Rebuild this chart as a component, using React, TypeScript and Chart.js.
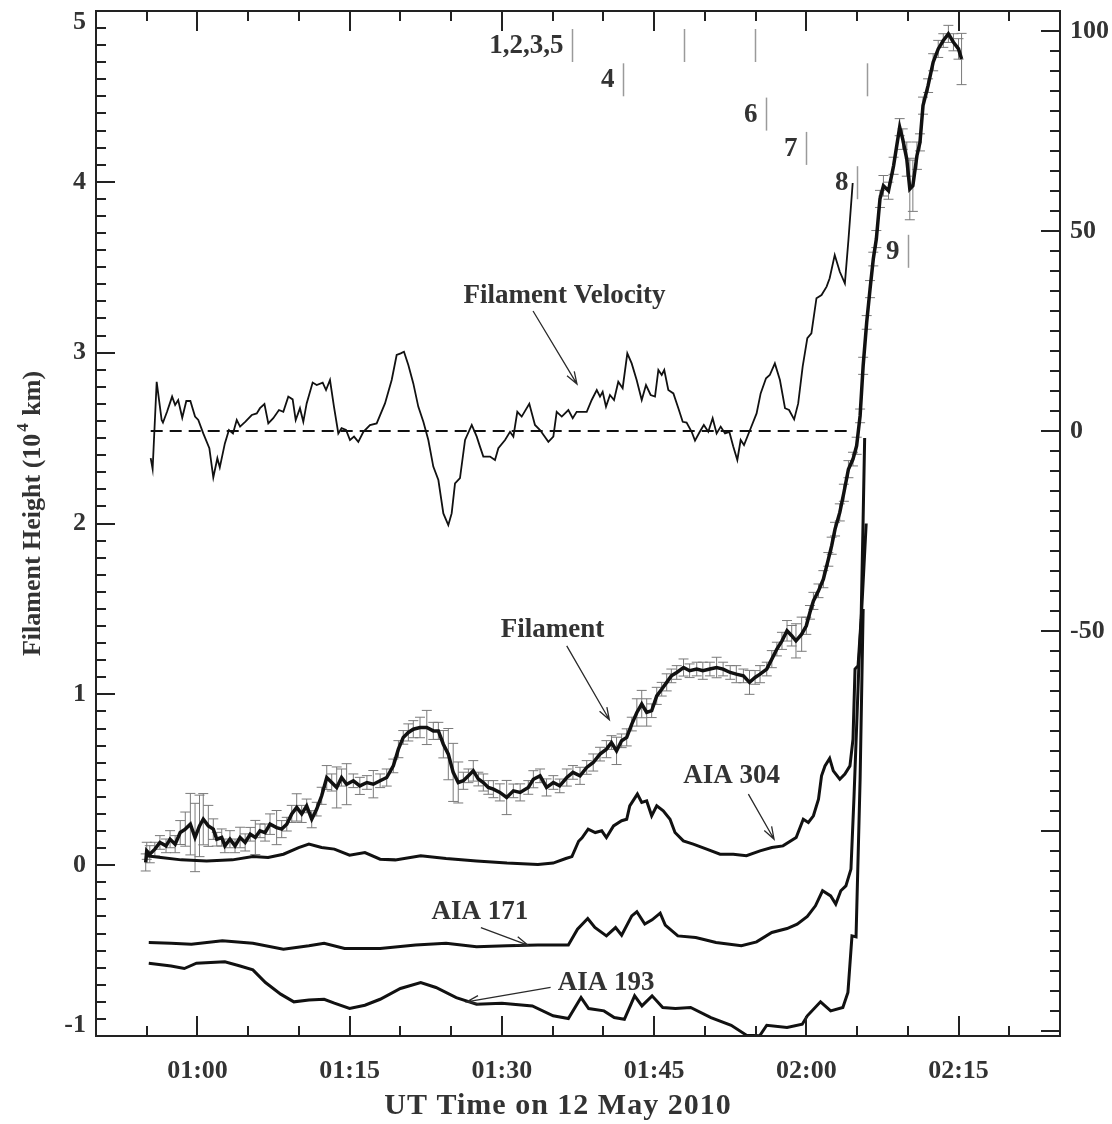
import React, { useEffect, useRef } from "react";
import { Chart, registerables } from "chart.js";

Chart.register(...registerables);

const SERIF = '"Liberation Serif", "Times New Roman", "DejaVu Serif", serif';
const TEXT = "#333333";
const INK = "#111111";

// ---- axes (time in minutes after 00:00 UT on 12 May 2010) ----
const timeMin = 50;
const timeMax = 145;
const timeTicks = [60, 75, 90, 105, 120, 135];
const timeTickLabels = ["01:00", "01:15", "01:30", "01:45", "02:00", "02:15"];
const heightMin = -1;
const heightMax = 5;
const heightTicks = [-1, 0, 1, 2, 3, 4, 5];
const heightTickLabels = ["-1", "0", "1", "2", "3", "4", "5"];
const velocityMin = -151.25;
const velocityMax = 105;
const velocityTicks = [100, 50, 0, -50];
const velocityTickLabels = ["100", "50", "0", "-50"];

// ---- Filament height (10^4 km) with errors ----
const filamentTime = [54.9,55.0,55.3,55.8,56.3,56.9,57.3,57.8,58.3,58.8,59.3,59.76,60.2,60.57,61.07,61.56,61.9,62.39,62.7,63.2,63.7,64.2,64.7,65.2,65.7,66.16,66.66,67.15,67.8,68.3,68.8,69.29,69.78,70.27,70.76,71.26,71.75,72.24,72.74,73.23,73.72,74.2,74.7,75.36,76.0,76.7,77.33,78.0,78.65,79.3,79.8,80.28,80.78,81.27,81.93,82.6,83.24,83.74,84.23,84.72,85.2,85.7,86.2,86.7,87.18,87.68,88.17,88.66,89.16,89.8,90.47,91.13,91.8,92.6,93.1,93.76,94.4,95.07,95.7,96.4,97.0,97.7,98.36,99.0,99.67,100.3,100.8,101.3,101.8,102.3,102.8,103.3,103.78,104.27,104.76,105.26,105.75,106.24,106.7,107.23,107.9,108.5,109.2,109.8,110.5,111.16,111.8,112.5,113.1,113.8,114.4,114.95,115.44,116.1,116.6,117.1,117.6,118.1,118.56,118.98,119.54,120.0,120.36,120.7,121.2,121.68,122.17,122.5,122.83,123.3,123.7,124.15,124.6,124.96,125.3,125.6,125.95,126.28,126.6,126.9,127.26,127.6,128.1,128.6,129.2,129.5,129.9,130.2,130.5,130.9,131.2,131.5,132.0,132.5,133.0,133.5,134.0,134.5,135.0,135.3];
const filamentHeight = [0.016,0.084,0.064,0.094,0.133,0.113,0.152,0.123,0.191,0.211,0.24,0.162,0.23,0.269,0.23,0.211,0.152,0.162,0.113,0.152,0.113,0.162,0.133,0.181,0.162,0.201,0.191,0.24,0.22,0.211,0.24,0.3,0.338,0.3,0.347,0.269,0.328,0.406,0.513,0.484,0.455,0.513,0.474,0.494,0.464,0.484,0.474,0.494,0.513,0.581,0.679,0.748,0.777,0.796,0.806,0.806,0.786,0.786,0.708,0.65,0.543,0.484,0.494,0.523,0.552,0.504,0.484,0.455,0.445,0.426,0.396,0.435,0.426,0.455,0.503,0.523,0.455,0.484,0.464,0.513,0.543,0.523,0.572,0.601,0.65,0.679,0.718,0.669,0.728,0.748,0.826,0.894,0.943,0.894,0.904,0.991,1.03,1.07,1.108,1.128,1.157,1.138,1.148,1.138,1.148,1.157,1.148,1.128,1.118,1.108,1.07,1.099,1.118,1.148,1.206,1.265,1.313,1.372,1.343,1.313,1.352,1.401,1.48,1.547,1.606,1.674,1.79,1.87,1.967,2.065,2.18,2.318,2.377,2.455,2.63,2.923,3.177,3.372,3.548,3.665,3.9,3.977,3.948,4.094,4.32,4.25,4.133,3.958,3.977,4.153,4.231,4.446,4.563,4.7,4.778,4.827,4.866,4.817,4.778,4.719];
const filamentError = [0.05,0.05,0.05,0.04,0.04,0.04,0.05,0.05,0.07,0.1,0.18,0.2,0.18,0.15,0.12,0.06,0.04,0.05,0.04,0.05,0.04,0.06,0.05,0.04,0.1,0.04,0.05,0.06,0.1,0.05,0.04,0.05,0.08,0.05,0.04,0.05,0.04,0.05,0.07,0.05,0.12,0.05,0.12,0.04,0.05,0.04,0.08,0.04,0.05,0.04,0.05,0.04,0.05,0.05,0.06,0.1,0.05,0.05,0.08,0.15,0.17,0.12,0.05,0.04,0.06,0.04,0.05,0.04,0.05,0.05,0.1,0.04,0.05,0.04,0.05,0.04,0.05,0.04,0.04,0.05,0.04,0.05,0.04,0.05,0.04,0.05,0.04,0.08,0.04,0.05,0.04,0.08,0.08,0.08,0.04,0.05,0.04,0.05,0.04,0.04,0.05,0.04,0.04,0.05,0.04,0.06,0.04,0.04,0.05,0.04,0.07,0.04,0.05,0.04,0.05,0.04,0.05,0.06,0.06,0.1,0.1,0.05,0.04,0.05,0.04,0.05,0.04,0.05,0.04,0.05,0.05,0.05,0.04,0.05,0.04,0.05,0.04,0.05,0.04,0.05,0.05,0.06,0.05,0.05,0.05,0.06,0.1,0.18,0.15,0.08,0.05,0.05,0.04,0.05,0.05,0.04,0.05,0.05,0.06,0.15];

// ---- Filament velocity (km/s) ----
const velocityTime = [55.39,55.58,55.98,56.47,56.6,57.0,57.5,57.8,58.1,58.5,58.9,59.3,59.76,60.08,60.57,61.17,61.56,61.96,62.2,62.7,63.1,63.5,63.87,64.2,64.7,65.35,65.84,66.16,66.6,66.98,67.47,68.03,68.46,68.95,69.38,69.68,70.1,70.43,70.76,71.35,71.75,72.34,72.67,73.06,73.45,73.88,74.2,74.64,75.03,75.43,75.85,76.35,77.0,77.66,78.48,79.14,79.63,80.03,80.35,80.78,81.27,81.76,82.26,82.75,83.24,83.74,84.23,84.72,85.05,85.38,85.87,86.37,87.03,87.52,87.84,88.17,88.83,89.32,89.65,90.31,90.8,91.13,91.52,91.95,92.7,93.26,93.76,94.58,95.07,95.4,95.9,96.55,96.98,97.37,98.36,98.85,99.35,99.67,99.93,100.26,100.65,101.05,101.47,101.9,102.36,102.79,103.28,103.78,104.2,104.66,105.09,105.42,105.75,106.0,106.4,106.9,107.39,107.82,108.2,108.7,109.03,109.5,109.9,110.34,110.77,111.16,111.56,111.99,112.41,112.8,113.2,113.53,113.86,114.45,115.1,115.5,116.03,116.4,116.9,117.4,117.9,118.3,118.8,119.2,119.64,120.1,120.5,121.0,121.5,122.0,122.3,122.8,123.3,123.8,124.15,124.57];
const velocityValue = [-6.8,-9.5,12.3,2.75,2.1,4.8,8.6,6.5,7.75,3.3,7.5,7.5,3.6,2.75,-0.6,-4.3,-11.6,-6.8,-9.1,-3.1,0.25,-0.6,2.75,1.1,2.3,4.0,4.4,5.7,6.75,1.9,3.2,5.25,4.8,8.6,7.9,2.75,5.7,2.3,6.9,12.1,11.5,12.1,10.25,12.75,6.1,-0.6,0.7,0.25,-2.25,-1.4,-2.7,-0.2,1.5,1.9,6.9,12.75,19.0,19.4,19.8,16.5,11.9,6.1,2.3,-2.25,-8.9,-12.25,-20.6,-23.5,-20.6,-13.1,-11.8,-2.25,1.5,-1.4,-3.9,-6.4,-6.4,-7.25,-4.3,-2.25,-0.2,-1.4,4.8,3.6,6.8,1.5,0.25,-2.7,-1.4,4.8,3.6,5.25,3.2,4.8,4.8,7.75,10.25,8.6,9.8,6.1,9.0,7.75,12.3,10.7,19.4,16.9,12.75,7.75,11.5,9.0,8.6,15.25,14.0,15.25,10.25,9.4,5.7,2.3,2.1,-0.2,-2.4,-0.2,1.5,-0.2,3.2,-0.6,1.1,-0.6,-0.2,-3.9,-7.25,-2.25,-3.5,0.25,4.4,9.4,13.2,14.0,16.9,12.75,5.7,5.25,2.9,6.9,16.1,23.2,24.4,33.2,34.0,36.1,38.2,44.0,39.8,36.9,47.75,62.0];

// ---- AIA light curves (arbitrary units, plotted on height axis) ----
const aia304Time = [54.93,56.4,58.4,60.9,63.45,65.46,66.96,68.47,69.97,70.98,72.23,73.49,74.99,76.5,78.0,79.5,82.0,84.5,87.5,90.5,93.55,95.05,96.3,96.9,97.56,97.9,98.5,99.2,99.84,100.3,101.0,101.8,102.3,102.6,103.35,103.78,104.27,104.76,105.26,105.9,106.57,107.06,107.88,108.86,110.18,111.5,112.8,114.1,115.44,116.6,117.7,119.0,119.7,120.2,120.7,121.2,121.5,121.84,122.3,122.66,123.3,123.8,124.3,124.6,124.8,125.1,125.4,125.6,125.75];
const aia304Value = [0.055,0.045,0.031,0.025,0.031,0.051,0.045,0.064,0.103,0.123,0.103,0.094,0.058,0.074,0.035,0.031,0.055,0.039,0.025,0.012,0.004,0.012,0.039,0.05,0.14,0.16,0.211,0.191,0.201,0.162,0.23,0.26,0.269,0.347,0.416,0.367,0.376,0.289,0.347,0.318,0.269,0.191,0.142,0.123,0.094,0.064,0.064,0.055,0.084,0.103,0.113,0.162,0.269,0.25,0.289,0.386,0.523,0.581,0.625,0.552,0.503,0.533,0.581,0.738,1.148,1.167,1.44,2.03,2.5];
const aia171Time = [55.2,57.4,59.4,62.45,65.46,68.47,70.98,72.48,74.5,78.0,81.5,84.5,87.5,90.5,93.55,96.55,97.45,98.46,99.16,100.3,101.2,101.8,102.8,103.3,104.08,104.8,105.6,106.1,107.34,109.1,111.1,113.6,115.1,116.6,118.1,119.1,120.1,120.9,121.6,122.4,122.9,123.4,123.9,124.4,124.7,125.2,125.9];
const aia171Value = [-0.453,-0.457,-0.463,-0.443,-0.457,-0.492,-0.472,-0.457,-0.488,-0.488,-0.468,-0.457,-0.478,-0.472,-0.468,-0.468,-0.375,-0.312,-0.365,-0.414,-0.365,-0.41,-0.297,-0.273,-0.345,-0.32,-0.281,-0.351,-0.414,-0.423,-0.453,-0.472,-0.449,-0.394,-0.371,-0.345,-0.3,-0.238,-0.15,-0.18,-0.228,-0.15,-0.121,-0.023,0.4,1.2,2.0];
const aia193Time = [55.2,57.4,58.7,59.9,62.7,64.2,65.46,66.7,68.2,69.5,70.98,72.48,73.49,74.99,76.5,78.0,80.0,82.0,83.5,85.5,87.5,90.0,93.0,95.05,96.55,97.8,98.55,100.06,101.07,102.07,103.08,103.8,104.8,105.85,107.1,108.6,110.6,112.6,114.1,115.4,116.1,118.1,119.6,120.1,121.4,122.4,123.6,124.1,124.5,124.9,125.3,125.6];
const aia193Value = [-0.574,-0.59,-0.605,-0.574,-0.566,-0.59,-0.613,-0.687,-0.755,-0.8,-0.789,-0.785,-0.808,-0.839,-0.82,-0.785,-0.722,-0.687,-0.716,-0.775,-0.814,-0.808,-0.824,-0.882,-0.898,-0.775,-0.839,-0.853,-0.892,-0.902,-0.765,-0.824,-0.765,-0.833,-0.839,-0.833,-0.892,-0.937,-0.995,-0.999,-0.937,-0.95,-0.931,-0.882,-0.8,-0.853,-0.833,-0.745,-0.414,-0.42,0.5,1.5];

// ---- event markers at top ----
const eventTimes = [96.9, 107.9, 114.9, 101.9, 126.0, 116.0, 120.0, 125.0, 130.0];
const eventRows = [0, 0, 0, 1, 1, 2, 3, 4, 6];
const eventLabels = ["1,2,3,5", "", "", "4", "", "6", "7", "8", "9"];

// ---- curve annotations ----
const annotationText = ["Filament Velocity", "Filament", "AIA 304", "AIA 171", "AIA 193"];
const annotationTime = [96.17, 94.99, 112.63, 87.84, 100.26];
const annotationHeight = [3.331, 1.376, 0.521, -0.273, -0.691];
const arrowStartTime = [93.07, 96.39, 114.29, 87.93, 94.8];
const arrowStartHeight = [3.244, 1.284, 0.416, -0.365, -0.716];
const arrowEndTime = [97.4, 100.59, 116.82, 92.55, 86.52];
const arrowEndHeight = [2.816, 0.851, 0.152, -0.468, -0.8];

const toPoints = (xs: number[], ys: number[]) => xs.map((x, i) => ({ x, y: ys[i] }));

function seg(ctx: CanvasRenderingContext2D, x1: number, y1: number, x2: number, y2: number) {
  ctx.moveTo(x1, y1);
  ctx.lineTo(x2, y2);
}

const errorBarPlugin = {
  id: "filamentErrorBars",
  beforeDatasetsDraw(chart: any) {
    const { ctx, chartArea: a, scales } = chart;
    ctx.save();
    ctx.beginPath();
    ctx.rect(a.left, a.top, a.right - a.left, a.bottom - a.top);
    ctx.clip();
    ctx.strokeStyle = "#7a7a7a";
    ctx.lineWidth = 1;
    ctx.beginPath();
    filamentTime.forEach((t, i) => {
      const px = scales.x.getPixelForValue(t);
      const lo = scales.y.getPixelForValue(filamentHeight[i] - filamentError[i]);
      const hi = scales.y.getPixelForValue(filamentHeight[i] + filamentError[i]);
      seg(ctx, px, lo, px, hi);
      seg(ctx, px - 5, lo, px + 5, lo);
      seg(ctx, px - 5, hi, px + 5, hi);
    });
    ctx.stroke();
    ctx.restore();
  },
};

const annotationPlugin = {
  id: "annotations",
  afterDatasetsDraw(chart: any) {
    const { ctx, chartArea: a, scales } = chart;
    const xs = scales.x;
    const ys = scales.y;
    ctx.save();
    // event markers
    ctx.strokeStyle = "#9a9a9a";
    ctx.lineWidth = 1.5;
    ctx.fillStyle = TEXT;
    ctx.font = `bold 27px ${SERIF}`;
    ctx.textAlign = "right";
    ctx.textBaseline = "middle";
    eventTimes.forEach((t, i) => {
      const px = Math.round(xs.getPixelForValue(t)) + 0.5;
      const top = a.top + 18 + eventRows[i] * 34.3;
      ctx.beginPath();
      seg(ctx, px, top, px, top + 33);
      ctx.stroke();
      if (eventLabels[i]) ctx.fillText(eventLabels[i], px - 9, top + 17);
    });
    // labels and arrows
    ctx.textAlign = "center";
    annotationText.forEach((txt, i) => {
      ctx.fillStyle = TEXT;
      ctx.fillText(txt, xs.getPixelForValue(annotationTime[i]), ys.getPixelForValue(annotationHeight[i]));
      const x1 = xs.getPixelForValue(arrowStartTime[i]);
      const y1 = ys.getPixelForValue(arrowStartHeight[i]);
      const x2 = xs.getPixelForValue(arrowEndTime[i]);
      const y2 = ys.getPixelForValue(arrowEndHeight[i]);
      const ang = Math.atan2(y2 - y1, x2 - x1);
      const L = 13;
      const w = 0.33;
      ctx.strokeStyle = "#2a2a2a";
      ctx.lineWidth = 1.3;
      ctx.beginPath();
      seg(ctx, x1, y1, x2, y2);
      ctx.moveTo(x2 - L * Math.cos(ang - w), y2 - L * Math.sin(ang - w));
      ctx.lineTo(x2, y2);
      ctx.lineTo(x2 - L * Math.cos(ang + w), y2 - L * Math.sin(ang + w));
      ctx.stroke();
    });
    ctx.restore();
  },
};

const framePlugin = {
  id: "frameTicks",
  afterDraw(chart: any) {
    const { ctx, chartArea: a, scales } = chart;
    ctx.save();
    ctx.strokeStyle = "#222";
    ctx.lineWidth = 2;
    ctx.strokeRect(a.left, a.top, a.right - a.left, a.bottom - a.top);
    ctx.beginPath();
    // time ticks, bottom and top
    for (let t = timeMin + 5; t < timeMax; t += 5) {
      const px = Math.round(scales.x.getPixelForValue(t));
      const len = t % 15 === 0 ? 20 : 10;
      seg(ctx, px, a.bottom, px, a.bottom - len);
      seg(ctx, px, a.top, px, a.top + len);
    }
    // height ticks, left
    for (let i = heightMin * 10 + 1; i < heightMax * 10; i++) {
      const py = Math.round(scales.y.getPixelForValue(i / 10));
      const len = i % 10 === 0 ? 19 : 10;
      seg(ctx, a.left, py, a.left + len, py);
    }
    // velocity ticks, right
    for (let v = -150; v < velocityMax; v += 5) {
      if (v <= velocityMin) continue;
      const py = Math.round(scales.y2.getPixelForValue(v));
      const len = v % 50 === 0 ? 19 : 10;
      seg(ctx, a.right, py, a.right - len, py);
    }
    ctx.stroke();

    // axis titles
    ctx.fillStyle = TEXT;
    ctx.textBaseline = "middle";
    ctx.textAlign = "center";
    ctx.font = `bold 30px ${SERIF}`;
    (ctx as any).letterSpacing = "1px";
    ctx.fillText("UT Time on 12 May 2010", (a.left + a.right) / 2 - 20, 1106);
    (ctx as any).letterSpacing = "0px";

    ctx.translate(33, (a.top + a.bottom) / 2 - 10);
    ctx.rotate(-Math.PI / 2);
    const main = "Filament Height (10";
    const sup = "4";
    const tail = " km)";
    ctx.font = `bold 26px ${SERIF}`;
    const wMain = ctx.measureText(main).width;
    const wTail = ctx.measureText(tail).width;
    ctx.font = `bold 17px ${SERIF}`;
    const wSup = ctx.measureText(sup).width;
    const start = -(wMain + wSup + wTail + 3) / 2;
    ctx.textAlign = "left";
    ctx.font = `bold 26px ${SERIF}`;
    ctx.fillText(main, start, 0);
    ctx.font = `bold 17px ${SERIF}`;
    ctx.fillText(sup, start + wMain + 2, -9);
    ctx.font = `bold 26px ${SERIF}`;
    ctx.fillText(tail, start + wMain + wSup + 3, 0);
    ctx.restore();
  },
};

const tickFont = { family: SERIF, size: 26, weight: "bold" as const };
const edgeTickFont = { family: SERIF, size: 26, weight: "bold" as const, lineHeight: 0.85 };

export default function App() {
  const ref = useRef<HTMLCanvasElement | null>(null);

  useEffect(() => {
    const canvas = ref.current;
    if (!canvas) return;
    const zeroLine = [
      { x: velocityTime[0], y: 0 },
      { x: velocityTime[velocityTime.length - 1], y: 0 },
    ];
    const lastHeight = heightTickLabels.length - 1;
    const chart = new Chart(canvas, {
      type: "line",
      data: {
        datasets: [
          { label: "Filament", data: toPoints(filamentTime, filamentHeight), yAxisID: "y", borderColor: INK, borderWidth: 3.5 },
          { label: "Filament Velocity", data: toPoints(velocityTime, velocityValue), yAxisID: "y2", borderColor: INK, borderWidth: 1.8 },
          { label: "Zero velocity", data: zeroLine, yAxisID: "y2", borderColor: INK, borderWidth: 1.8, borderDash: [12, 7] },
          { label: "AIA 304", data: toPoints(aia304Time, aia304Value), yAxisID: "y", borderColor: INK, borderWidth: 3 },
          { label: "AIA 171", data: toPoints(aia171Time, aia171Value), yAxisID: "y", borderColor: INK, borderWidth: 3 },
          { label: "AIA 193", data: toPoints(aia193Time, aia193Value), yAxisID: "y", borderColor: INK, borderWidth: 3 },
        ],
      },
      options: {
        animation: false,
        responsive: false,
        devicePixelRatio: 1,
        layout: { padding: { top: 11, left: 0, right: 0, bottom: 0 } },
        elements: { point: { radius: 0 }, line: { tension: 0, fill: false } },
        plugins: { legend: { display: false }, tooltip: { enabled: false } },
        scales: {
          x: {
            type: "linear",
            position: "bottom",
            min: timeMin,
            max: timeMax,
            grid: { display: false, drawTicks: false },
            border: { display: false },
            afterBuildTicks: (s: any) => { s.ticks = timeTicks.map((v) => ({ value: v })); },
            afterFit: (s: any) => { s.height = 88; s.paddingLeft = 0; s.paddingRight = 0; },
            ticks: {
              autoSkip: false,
              maxRotation: 0,
              padding: 20,
              color: TEXT,
              font: tickFont,
              callback: (_v: any, i: number) => timeTickLabels[i],
            },
          },
          y: {
            type: "linear",
            position: "left",
            min: heightMin,
            max: heightMax,
            grid: { display: false, drawTicks: false },
            border: { display: false },
            afterBuildTicks: (s: any) => { s.ticks = heightTicks.map((v) => ({ value: v })); },
            afterFit: (s: any) => { s.width = 96; s.paddingTop = 0; s.paddingBottom = 0; },
            ticks: {
              autoSkip: false,
              padding: 10,
              color: TEXT,
              font: edgeTickFont,
              // the end labels are nudged inside the frame, as in the original
              callback: (_v: any, i: number) =>
                i === 0 ? [heightTickLabels[i], ""] : i === lastHeight ? ["", heightTickLabels[i]] : heightTickLabels[i],
            },
          },
          y2: {
            type: "linear",
            position: "right",
            min: velocityMin,
            max: velocityMax,
            grid: { display: false, drawTicks: false },
            border: { display: false },
            afterBuildTicks: (s: any) => { s.ticks = velocityTicks.map((v) => ({ value: v })); },
            afterFit: (s: any) => { s.width = 52; s.paddingTop = 0; s.paddingBottom = 0; },
            ticks: {
              autoSkip: false,
              padding: 10,
              color: TEXT,
              font: tickFont,
              callback: (_v: any, i: number) => velocityTickLabels[i],
            },
          },
        },
      },
      plugins: [errorBarPlugin, annotationPlugin, framePlugin],
    } as any);
    return () => chart.destroy();
  }, []);

  return (
    <div style={{ position: "absolute", left: 0, top: 0, width: 1112, height: 1124, background: "#ffffff" }}>
      <canvas ref={ref} width={1112} height={1124} style={{ display: "block", width: 1112, height: 1124 }} />
    </div>
  );
}
